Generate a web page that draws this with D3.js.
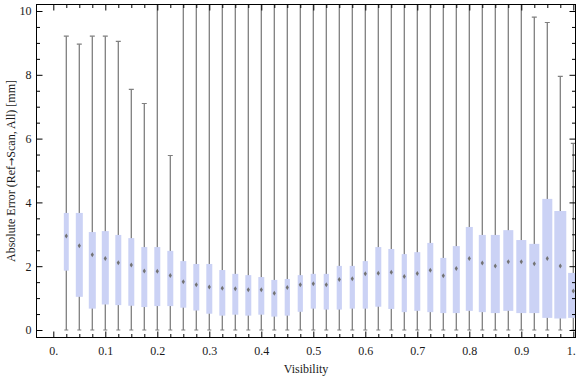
<!DOCTYPE html>
<html><head><meta charset="utf-8">
<script src="https://cdn.jsdelivr.net/npm/d3@7"></script>
<style>body{margin:0;background:#fff}svg{display:block}text{font-family:"Liberation Serif","Times New Roman",serif}</style>
</head><body><svg id="c" width="576" height="377"></svg>
<script>
const visibility = [0.025,0.05,0.075,0.1,0.125,0.15,0.175,0.2,0.225,0.25,0.275,0.3,0.325,0.35,0.375,0.4,0.425,0.45,0.475,0.5,0.525,0.55,0.575,0.6,0.625,0.65,0.675,0.7,0.725,0.75,0.775,0.8,0.825,0.85,0.875,0.9,0.925,0.95,0.975,1.0];
const q1 = [1.86,1.04,0.67,0.80,0.78,0.76,0.72,0.75,0.75,0.70,0.61,0.51,0.45,0.48,0.45,0.48,0.42,0.45,0.57,0.67,0.64,0.64,0.67,0.67,0.73,0.66,0.56,0.60,0.56,0.53,0.53,0.60,0.56,0.53,0.60,0.53,0.53,0.38,0.36,0.38];
const q3 = [3.67,3.67,3.07,3.10,2.98,2.88,2.60,2.60,2.48,2.16,2.07,2.07,1.88,1.76,1.72,1.66,1.57,1.60,1.72,1.76,1.76,2.01,2.01,2.16,2.60,2.54,2.38,2.44,2.73,2.26,2.63,3.23,2.98,2.98,3.13,2.82,2.70,4.11,3.73,1.79];
const median = [2.95,2.64,2.36,2.24,2.11,2.04,1.85,1.84,1.71,1.51,1.42,1.35,1.31,1.29,1.26,1.26,1.15,1.33,1.42,1.45,1.42,1.58,1.61,1.76,1.78,1.81,1.68,1.77,1.87,1.70,1.93,2.24,2.10,2.01,2.14,2.14,2.08,2.24,2.01,1.22];
const whiskerLow = new Array(40).fill(0);
const whiskerHigh = [9.21,8.96,9.21,9.21,9.05,7.54,7.10,11,5.47,11,11,11,11,11,11,11,11,11,11,11,11,11,11,11,11,11,11,11,11,11,11,11,11,11,11,11,9.81,9.64,7.95,5.85];
// relative sample weight, shown as box width (fraction of bin spacing)
const boxWeight = [0.38,0.54,0.54,0.54,0.46,0.46,0.46,0.46,0.46,0.46,0.46,0.46,0.46,0.46,0.46,0.46,0.46,0.40,0.40,0.40,0.40,0.40,0.40,0.40,0.46,0.46,0.40,0.46,0.46,0.46,0.54,0.54,0.54,0.69,0.77,0.77,0.77,0.77,0.92,0.80];
const xTicks = [0,0.1,0.2,0.3,0.4,0.5,0.6,0.7,0.8,0.9,1.0];
const xTickLabels = ["0.","0.1","0.2","0.3","0.4","0.5","0.6","0.7","0.8","0.9","1."];
const yTicks = [0,2,4,6,8,10];
const xLabel = "Visibility";
const yLabelParts = ["Absolute Error (Ref", "\u2192", "Scan, All) [mm]"];

const svg = d3.select("#c");
const L=36.5, R=575.5, T=4.5, B=337.5;
const x = d3.scaleLinear().domain([0,1]).range([53.3,573.3]);
const y = d3.scaleLinear().domain([0,10]).range([330,11]);
const step = x(0.025)-x(0);

svg.append("clipPath").attr("id","clip").append("rect").attr("x",L).attr("y",T).attr("width",R-L).attr("height",B-T);
const g = svg.append("g").attr("clip-path","url(#clip)");

const data = visibility.map((v,i)=>({v,q1:q1[i],q3:q3[i],m:median[i],lo:whiskerLow[i],hi:whiskerHigh[i],w:boxWeight[i]*step}));
const gray="#7f7f7f";
const box = g.selectAll("g.b").data(data).join("g");
box.append("line").attr("x1",d=>x(d.v)).attr("x2",d=>x(d.v)).attr("y1",d=>y(d.lo)).attr("y2",d=>y(d.hi)).attr("stroke",gray).attr("stroke-width",1.3);
box.append("line").attr("x1",d=>x(d.v)-2).attr("x2",d=>x(d.v)+2).attr("y1",d=>y(d.lo)).attr("y2",d=>y(d.lo)).attr("stroke",gray).attr("stroke-width",1.2);
box.filter(d=>d.hi<10.2).append("line").attr("x1",d=>x(d.v)-2.5).attr("x2",d=>x(d.v)+2.5).attr("y1",d=>y(d.hi)).attr("y2",d=>y(d.hi)).attr("stroke",gray).attr("stroke-width",1.2);
box.append("rect").attr("x",d=>x(d.v)-d.w/2).attr("width",d=>d.w).attr("y",d=>y(d.q3)).attr("height",d=>y(d.q1)-y(d.q3)).attr("fill","#cbd2f5");
box.append("path").attr("d",d=>{const cx=x(d.v),cy=y(d.m);return `M${cx},${cy-2.5}L${cx+1.6},${cy}L${cx},${cy+2.5}L${cx-1.6},${cy}Z`;}).attr("fill","#737373");

// axes
const fmt = d=>xTickLabels[xTicks.findIndex(t=>Math.abs(t-d)<1e-9)];
const minorX = d3.range(0,41).map(i=>i*0.025).filter(v=>!xTicks.some(t=>Math.abs(t-v)<1e-9));
const minorY = d3.range(0,21).map(i=>i*0.5).filter(v=>!yTicks.includes(v));
function style(sel){sel.select(".domain").remove();sel.selectAll("line").attr("stroke","#000");sel.selectAll("text").attr("font-size",12).attr("fill","#1a1a1a").attr("font-family","Liberation Serif");}
const xa = svg.append("g").attr("transform",`translate(0,${B})`).call(d3.axisBottom(x).tickValues(xTicks).tickFormat(fmt).tickSize(-6).tickPadding(9)).call(style);
xa.selectAll(".tick").filter(d=>d===1).select("text").attr("text-anchor","end").attr("dx",2);
svg.append("g").attr("transform",`translate(0,${B})`).call(d3.axisBottom(x).tickValues(minorX).tickFormat("").tickSize(-3.5)).call(style);
svg.append("g").attr("transform",`translate(0,${T})`).call(d3.axisTop(x).tickValues(xTicks).tickFormat("").tickSize(-6)).call(style);
svg.append("g").attr("transform",`translate(0,${T})`).call(d3.axisTop(x).tickValues(minorX).tickFormat("").tickSize(-3.5)).call(style);
svg.append("g").attr("transform",`translate(${L},0)`).call(d3.axisLeft(y).tickValues(yTicks).tickFormat(d3.format("d")).tickSize(-6).tickPadding(5)).call(style);
svg.append("g").attr("transform",`translate(${L},0)`).call(d3.axisLeft(y).tickValues(minorY).tickFormat("").tickSize(-3.5)).call(style);
svg.append("g").attr("transform",`translate(${R},0)`).call(d3.axisRight(y).tickValues(yTicks).tickFormat("").tickSize(-6)).call(style);
svg.append("g").attr("transform",`translate(${R},0)`).call(d3.axisRight(y).tickValues(minorY).tickFormat("").tickSize(-3.5)).call(style);
svg.append("rect").attr("x",L).attr("y",T).attr("width",R-L).attr("height",B-T).attr("fill","none").attr("stroke","#000").attr("stroke-width",1);

svg.append("text").attr("x",(L+R)/2).attr("y",373).attr("text-anchor","middle").attr("font-size",12).attr("fill","#1a1a1a").text(xLabel);
const yl = svg.append("text").attr("transform",`translate(15,${(T+B)/2}) rotate(-90)`).attr("text-anchor","middle").attr("font-size",12).attr("fill","#1a1a1a");
yl.append("tspan").text(yLabelParts[0]);
yl.append("tspan").attr("font-family","DejaVu Sans").attr("font-size",10).text(yLabelParts[1]);
yl.append("tspan").text(yLabelParts[2]);
</script></body></html>
